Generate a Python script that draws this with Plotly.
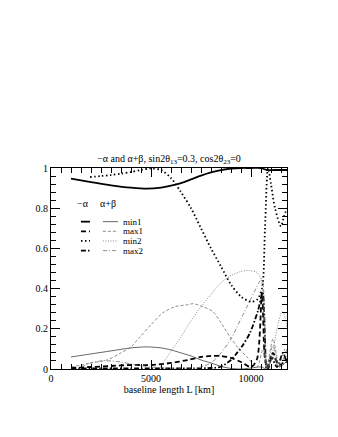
import plotly.graph_objects as go

# baseline lengths [km] and probabilities
L_min1_neg = [1000, 2000, 3000, 4000, 4800, 5500, 6000, 6500, 7000, 7500, 8000, 8500, 9000, 9500, 10000, 10500, 10800, 11200, 11800]
P_min1_neg = [0.947, 0.93, 0.914, 0.902, 0.897, 0.902, 0.912, 0.925, 0.943, 0.962, 0.978, 0.99, 0.997, 1.0, 1.0, 1.0, 0.99, 0.99, 0.99]

L_max1_neg = [1000, 2000, 3000, 4000, 5000, 6000, 6850, 7500, 8000, 8500, 9000, 9500, 10000, 10300, 10550, 10700, 10850, 11100, 11400, 11800]
P_max1_neg = [0.005, 0.01, 0.015, 0.02, 0.02, 0.03, 0.045, 0.06, 0.065, 0.065, 0.055, 0.035, 0.01, 0.05, 0.38, 0.05, 0.0, 0.08, 0.02, 0.05]

L_min2_neg = [1950, 2500, 3000, 3500, 4000, 4500, 5000, 5500, 6000, 6500, 7000, 7500, 8000, 8500, 9000, 9500, 10000, 10300, 10550, 10700, 10850, 11000, 11200, 11500, 11650, 11800]
P_min2_neg = [0.955, 0.96, 0.965, 0.972, 0.98, 0.99, 0.998, 0.99, 0.95, 0.88, 0.80, 0.70, 0.60, 0.51, 0.42, 0.36, 0.335, 0.345, 0.40, 0.70, 1.0, 0.92, 0.80, 0.71, 0.76, 0.80]

L_max2_neg = [1000, 3000, 5000, 7000, 8000, 8450, 9000, 9300, 9600, 9950, 10350, 10580, 10700, 10780, 11000, 11300, 11600, 11800]
P_max2_neg = [0.003, 0.003, 0.003, 0.003, 0.005, 0.01, 0.045, 0.08, 0.12, 0.18, 0.29, 0.38, 0.15, 0.0, 0.06, 0.01, 0.08, 0.02]

L_min1_pos = [1000, 2000, 3000, 4000, 4800, 5500, 6000, 6500, 7000, 7500, 8000, 8600, 9000, 9500, 10000, 10500, 10800, 11100, 11400, 11800]
P_min1_pos = [0.06, 0.075, 0.09, 0.105, 0.11, 0.105, 0.095, 0.08, 0.065, 0.045, 0.03, 0.01, 0.003, 0.0, 0.005, 0.01, 0.0, 0.06, 0.01, 0.04]

L_max1_pos = [1000, 2000, 2800, 3500, 4000, 4450, 5000, 5600, 6200, 6850, 7100, 7600, 8100, 8500, 8950, 9400, 9800, 10300, 10600, 10800, 11100, 11400, 11700, 11800]
P_max1_pos = [0.01, 0.03, 0.045, 0.08, 0.11, 0.16, 0.22, 0.28, 0.31, 0.32, 0.325, 0.31, 0.285, 0.23, 0.16, 0.10, 0.06, 0.01, 0.10, 0.02, 0.15, 0.02, 0.10, 0.06]

L_min2_pos = [5400, 5800, 6500, 7000, 7500, 8000, 8500, 9000, 9500, 9900, 10300, 10500, 10650, 10780, 11000, 11300, 11550, 11700, 11800]
P_min2_pos = [0.0, 0.06, 0.16, 0.24, 0.31, 0.37, 0.43, 0.465, 0.485, 0.49, 0.48, 0.45, 0.25, 0.01, 0.05, 0.2, 0.285, 0.26, 0.2]

L_max2_pos = [1500, 2000, 2500, 3000, 3500, 4000, 5000, 6000, 7000, 7500, 8000, 8500, 9000, 9500, 10000, 10400, 10550, 10700, 10800, 11100, 11400, 11800]
P_max2_pos = [0.01, 0.03, 0.04, 0.04, 0.035, 0.025, 0.01, 0.003, 0.0, 0.01, 0.03, 0.08, 0.15, 0.25, 0.35, 0.43, 0.45, 0.2, 0.0, 0.12, 0.01, 0.1]

FONT = "Liberation Serif"
THICK = 1.8
THIN = 0.8
GREY = "#707070"

series = [
    (L_min1_neg, P_min1_neg, "black", THICK, "solid"),
    (L_max1_neg, P_max1_neg, "black", THICK, "5px,3px"),
    (L_min2_neg, P_min2_neg, "black", THICK, "1.5px,2.5px"),
    (L_max2_neg, P_max2_neg, "black", THICK, "5px,2px,1.5px,2px"),
    (L_min1_pos, P_min1_pos, "#404040", THIN, "solid"),
    (L_max1_pos, P_max1_pos, GREY, THIN, "3px,2px"),
    (L_min2_pos, P_min2_pos, GREY, THIN, "1px,1.5px"),
    (L_max2_pos, P_max2_pos, GREY, THIN, "4px,2px,1px,2px"),
]

fig = go.Figure()
for xs, ys, col, w, dash in series:
    fig.add_trace(go.Scatter(x=xs, y=ys, mode="lines", showlegend=False,
                             line=dict(color=col, width=w, dash=dash, shape="spline", smoothing=0.8)))

# hand-made two-column legend (paper coordinates)
leg_rows = ["min1", "max1", "min2", "max2"]
leg_dash = ["solid", "5px,3px", "1.5px,2.5px", "5px,2px,1.5px,2px"]
leg_dash_thin = ["solid", "3px,2px", "1px,1.5px", "4px,2px,1px,2px"]
row_y = [0.733, 0.685, 0.637, 0.589]
shapes = []
annots = [
    dict(x=0.135, y=0.823, text="\u2212\u03b1", size=10),
    dict(x=0.243, y=0.823, text="\u03b1+\u03b2", size=10),
]
for name, ry, d1, d2 in zip(leg_rows, row_y, leg_dash, leg_dash_thin):
    shapes.append(dict(type="line", xref="paper", yref="paper", x0=0.127, x1=0.165, y0=ry, y1=ry,
                       line=dict(color="black", width=THICK, dash=d1)))
    shapes.append(dict(type="line", xref="paper", yref="paper", x0=0.220, x1=0.284, y0=ry, y1=ry,
                       line=dict(color=GREY if name != "min1" else "#404040", width=THIN, dash=d2)))
    annots.append(dict(x=0.300, y=ry, text=name, xanchor="left", size=9))
for a in annots:
    sz = a.pop("size")
    a.update(xref="paper", yref="paper", showarrow=False, yanchor="middle", borderpad=0,
             font=dict(family=FONT, size=sz, color="black"))
    a.setdefault("xanchor", "center")

# page body adds ~8px offset, so margins are shifted accordingly
fig.update_layout(
    width=338, height=437,
    margin=dict(l=43, r=59, t=160, b=76),
    paper_bgcolor="white", plot_bgcolor="white",
    font=dict(family=FONT, size=10, color="black"),
    title=dict(text="\u2212\u03b1 and \u03b1+\u03b2, sin2\u03b8<sub>13</sub>=0.3, cos2\u03b8<sub>23</sub>=0",
               x=0.5, xref="paper", y=1, yref="paper", yanchor="bottom", pad=dict(b=6),
               font=dict(family=FONT, size=10)),
    shapes=shapes, annotations=annots,
)
fig.update_xaxes(range=[0, 11800], tickvals=[0, 5000, 10000], ticktext=["0", "5000", "10000"],
                 ticks="inside", ticklen=9, tickcolor="black", showline=True, linecolor="black",
                 linewidth=1, mirror="allticks", showgrid=False, zeroline=False,
                 minor=dict(dtick=500, ticks="inside", ticklen=5, tickcolor="black", showgrid=False),
                 title=dict(text="baseline length L [km]", standoff=2, font=dict(family=FONT, size=10)),
                 tickfont=dict(family=FONT, size=10))
fig.update_yaxes(range=[0, 1], dtick=0.2, ticks="inside", ticklen=9, tickcolor="black",
                 showline=True, linecolor="black", linewidth=1, mirror="allticks",
                 showgrid=False, zeroline=False,
                 minor=dict(dtick=0.04, ticks="inside", ticklen=5, tickcolor="black", showgrid=False),
                 tickfont=dict(family=FONT, size=10))

fig.write_html("out.html")
